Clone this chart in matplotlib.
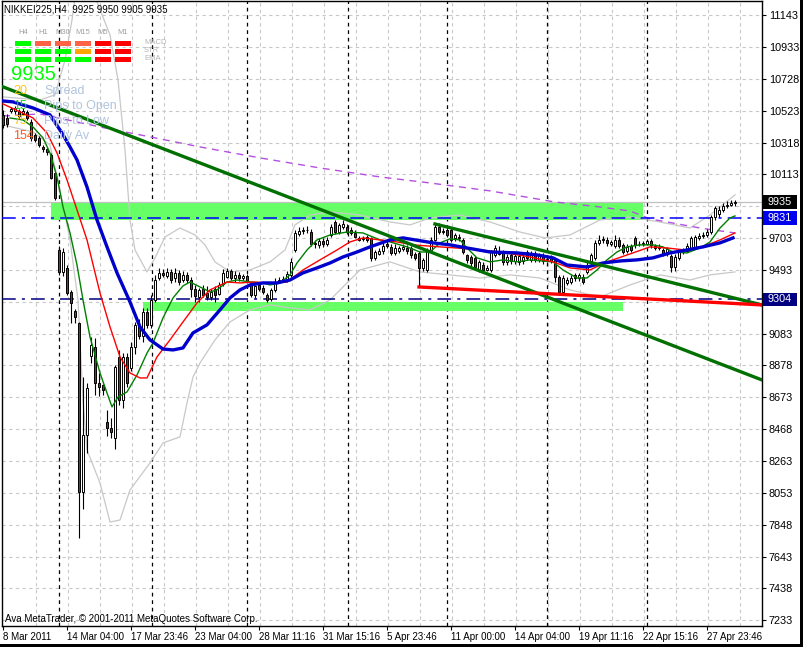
import matplotlib
matplotlib.use("Agg")
import matplotlib.pyplot as plt
import matplotlib.transforms as mtransforms
from matplotlib.patches import Rectangle

W, H = 804, 647

# H4 bars, 8 Mar 2011 .. 28 Apr 2011
opens = [10497, 10480, 10520, 10525, 10520, 10505, 10515, 10450, 10365, 10345,
         10290, 10275, 10240, 10120, 9625, 9480, 9505, 9355, 9230, 9150,
         8060, 8430, 8940, 9000, 8765, 8750, 8515, 8475, 8410, 8930,
         8655, 8930, 8860, 9000, 9140, 9065, 9220, 9140, 9300, 9445,
         9475, 9455, 9480, 9440, 9475, 9430, 9465, 9430, 9375, 9320,
         9370, 9345, 9320, 9375, 9340, 9405, 9450, 9485, 9440, 9465,
         9445, 9455, 9410, 9330, 9400, 9380, 9335, 9305, 9365, 9420,
         9425, 9430, 9465, 9625, 9730, 9745, 9755, 9740, 9670, 9655,
         9680, 9665, 9720, 9805, 9740, 9770, 9775, 9755, 9735, 9700,
         9695, 9705, 9700, 9575, 9600, 9620, 9660, 9645, 9605, 9620,
         9630, 9640, 9635, 9600, 9605, 9505, 9495, 9625, 9690, 9770,
         9740, 9750, 9750, 9700, 9710, 9690, 9590, 9580, 9575, 9495,
         9530, 9495, 9495, 9590, 9600, 9610, 9545, 9590, 9550, 9545,
         9550, 9610, 9560, 9600, 9560, 9590, 9560, 9580, 9560, 9450,
         9355, 9410, 9420, 9460, 9440, 9450, 9480, 9540, 9575, 9670,
         9690, 9690, 9665, 9650, 9690, 9655, 9620, 9650, 9700, 9660,
         9665, 9665, 9680, 9650, 9640, 9625, 9600, 9585, 9515, 9575,
         9610, 9620, 9640, 9645, 9700, 9715, 9720, 9740, 9835, 9855,
         9885, 9905, 9915, 9925]
highs = [10529, 10500, 10550, 10555, 10535, 10540, 10530, 10470, 10380, 10360,
         10300, 10285, 10250, 10130, 9650, 9640, 9530, 9365, 9240, 9160,
         8805, 8765, 9060, 9055, 8830, 8760, 8590, 8540, 8880, 8980,
         8960, 8960, 9030, 9160, 9180, 9250, 9250, 9330, 9460, 9510,
         9500, 9510, 9500, 9505, 9495, 9490, 9480, 9450, 9400, 9380,
         9395, 9390, 9370, 9390, 9420, 9500, 9510, 9500, 9490, 9480,
         9470, 9470, 9420, 9400, 9415, 9395, 9345, 9380, 9440, 9450,
         9455, 9485, 9570, 9755, 9770, 9775, 9780, 9760, 9690, 9700,
         9700, 9710, 9790, 9820, 9800, 9815, 9790, 9770, 9750, 9715,
         9715, 9720, 9710, 9625, 9640, 9670, 9680, 9660, 9660, 9650,
         9660, 9655, 9650, 9610, 9615, 9575, 9640, 9705, 9790, 9800,
         9765, 9770, 9765, 9735, 9725, 9700, 9600, 9590, 9585, 9560,
         9545, 9530, 9625, 9655, 9650, 9625, 9600, 9605, 9600, 9600,
         9600, 9625, 9615, 9615, 9605, 9605, 9585, 9590, 9575, 9460,
         9460, 9450, 9460, 9475, 9475, 9470, 9545, 9605, 9690, 9720,
         9715, 9705, 9690, 9720, 9705, 9670, 9660, 9665, 9715, 9680,
         9685, 9695, 9695, 9660, 9660, 9640, 9645, 9600, 9595, 9630,
         9640, 9670, 9715, 9720, 9735, 9740, 9760, 9850, 9910, 9905,
         9925, 9940, 9945, 9950]
lows = [10413, 10420, 10510, 10505, 10480, 10495, 10465, 10330, 10320, 10290,
        10255, 10240, 10080, 9950, 9465, 9455, 9330, 9150, 9155, 7765,
        7950, 8310, 8895, 8690, 8680, 8690, 8420, 8410, 8335, 8620,
        8600, 8740, 8840, 8950, 9050, 9030, 9120, 9120, 9290, 9430,
        9450, 9440, 9410, 9420, 9400, 9415, 9410, 9320, 9290, 9290,
        9320, 9300, 9300, 9290, 9330, 9390, 9440, 9430, 9420, 9425,
        9430, 9410, 9320, 9315, 9360, 9340, 9290, 9295, 9355, 9410,
        9415, 9420, 9450, 9610, 9715, 9730, 9735, 9650, 9640, 9640,
        9645, 9650, 9705, 9725, 9725, 9760, 9730, 9720, 9700, 9680,
        9680, 9675, 9555, 9560, 9590, 9600, 9640, 9590, 9590, 9605,
        9615, 9600, 9575, 9560, 9390, 9490, 9480, 9610, 9680, 9725,
        9725, 9705, 9675, 9685, 9680, 9595, 9540, 9520, 9500, 9480,
        9480, 9485, 9480, 9580, 9590, 9530, 9530, 9535, 9535, 9530,
        9535, 9560, 9545, 9545, 9545, 9535, 9545, 9540, 9420, 9330,
        9340, 9395, 9405, 9425, 9425, 9405, 9470, 9525, 9560, 9655,
        9670, 9650, 9650, 9635, 9635, 9595, 9605, 9610, 9640, 9650,
        9650, 9655, 9640, 9625, 9625, 9585, 9585, 9480, 9490, 9560,
        9600, 9610, 9630, 9630, 9690, 9700, 9705, 9725, 9820, 9840,
        9870, 9895, 9905, 9905]
closes = [10432, 10435, 10535, 10540, 10490, 10525, 10480, 10350, 10335, 10300,
          10275, 10255, 10090, 9960, 9480, 9610, 9345, 9280, 9190, 8060,
          8430, 8730, 9010, 8765, 8740, 8720, 8475, 8450, 8870, 8655,
          8930, 8765, 9000, 9140, 9065, 9220, 9140, 9300, 9430, 9475,
          9465, 9480, 9430, 9475, 9420, 9460, 9430, 9375, 9325, 9365,
          9335, 9320, 9350, 9335, 9400, 9475, 9485, 9440, 9465, 9440,
          9455, 9420, 9335, 9390, 9375, 9355, 9300, 9365, 9415, 9430,
          9435, 9470, 9545, 9735, 9745, 9755, 9750, 9660, 9660, 9680,
          9660, 9690, 9770, 9740, 9785, 9795, 9740, 9735, 9710, 9690,
          9700, 9690, 9570, 9610, 9615, 9650, 9650, 9605, 9640, 9635,
          9645, 9620, 9590, 9575, 9510, 9560, 9625, 9690, 9775, 9740,
          9745, 9720, 9690, 9720, 9700, 9610, 9560, 9540, 9515, 9545,
          9495, 9510, 9610, 9635, 9620, 9545, 9580, 9550, 9585, 9585,
          9580, 9575, 9600, 9560, 9590, 9550, 9565, 9555, 9450, 9355,
          9445, 9430, 9445, 9440, 9460, 9420, 9530, 9590, 9670, 9690,
          9695, 9670, 9675, 9690, 9650, 9610, 9645, 9625, 9655, 9665,
          9670, 9680, 9655, 9640, 9645, 9600, 9630, 9515, 9580, 9610,
          9615, 9650, 9700, 9705, 9715, 9720, 9740, 9835, 9895, 9885,
          9905, 9915, 9925, 9935]

# indicator lines: (bar index, price)
ma_slow_idx = [0, 2.5, 7.5, 11.75, 14.75, 16.75, 18.5, 21, 23.5, 26, 28.5, 31.75, 34.25, 36.75,
               40, 42.5, 45, 47.5, 51, 54.25, 56.75, 59.25, 61.75, 65, 68.5, 71.75, 75, 78.5,
               81.75, 85, 88.5, 91.75, 96.75, 100, 107.5, 111.75, 116, 121.75, 128.5, 133.5,
               137.5, 141, 146, 150, 154.25, 158.5, 162.5, 166.75, 171, 175, 179.25, 182.5]
ma_slow = [10587, 10581, 10542, 10497, 10380, 10290, 10206, 10031, 9818, 9644, 9476, 9288, 9127, 9043,
           8984, 8978, 8991, 9088, 9140, 9237, 9314, 9366, 9398, 9411, 9411, 9430, 9476, 9508,
           9540, 9579, 9611, 9644, 9689, 9702, 9670, 9657, 9637, 9611, 9605, 9592,
           9573, 9527, 9514, 9540, 9553, 9560, 9573, 9605, 9624, 9644, 9670, 9702]
ma_mid_idx = [0, 7.5, 11, 13.5, 16, 18.5, 21, 24.25, 26.75, 29.25, 31.75, 34.25, 36, 38.5, 41.75,
              45, 48.5, 51.75, 56, 59.25, 62.5, 66.75, 71, 75, 79.25, 83.5, 86.75, 90, 94.25,
              98.5, 102.5, 109.25, 116.75, 124.25, 131.75, 137.5, 141.75, 146.75, 151, 157.5,
              161.75, 166, 170.5, 175.5, 179.25, 183]
ma_mid = [10568, 10477, 10380, 10251, 10077, 9883, 9689, 9346, 9127, 8933, 8829, 8797, 8797, 8933, 9043,
          9159, 9282, 9366, 9417, 9411, 9417, 9411, 9417, 9495, 9560, 9624, 9676, 9702, 9689,
          9676, 9657, 9644, 9631, 9611, 9579, 9547, 9508, 9495, 9547, 9605,
          9644, 9637, 9624, 9650, 9689, 9734]
ma_fast_idx = [1.75, 5, 7.5, 10, 11.75, 13.5, 15, 16.75, 18.5, 20, 21.75, 24.25, 26, 27.25, 28.75,
               31, 33.5, 36, 37.5, 40, 42.5, 45, 46.75, 49.25, 51.75, 53.5, 56, 58.5, 61.75, 65,
               66.75, 69.25, 71.75, 73.5, 76, 78.5, 81.75, 86, 90, 94.25, 96.75, 101, 104.25,
               106.75, 109.25, 111.75, 114.25, 116, 118.5, 121.75, 125, 128.5, 131.75, 137.5, 140,
               143.5, 146, 148.5, 151, 153.5, 156, 159.25, 162.5, 165, 167.5, 171, 174.25, 176.75,
               179.25, 181.75, 183]
ma_fast = [10477, 10464, 10419, 10348, 10251, 10096, 9902, 9734, 9527, 9301, 9062, 8829, 8700, 8610, 8674,
           8707, 8816, 8958, 9023, 9185, 9314, 9392, 9417, 9385, 9353, 9366, 9417, 9430, 9417, 9411,
           9398, 9411, 9463, 9540, 9624, 9689, 9721, 9740, 9734, 9689, 9676, 9644, 9611,
           9611, 9670, 9696, 9689, 9637, 9573, 9547, 9560, 9547, 9560, 9547, 9495,
           9443, 9443, 9495, 9560, 9611, 9644, 9657, 9657, 9644, 9611, 9605, 9637, 9676,
           9766, 9831, 9844]
bb_up_idx = [0, 9.25, 13, 15.5, 17.25, 19.25, 21.75, 23.5, 26.75, 28.75, 30.5, 31.75, 33, 36, 38,
             40.5, 44.25, 48, 50.5, 53, 56.75, 61.75, 66.75, 70.5, 73, 76.75, 81.75, 89.25, 96.75,
             101.75, 106.75, 114.25, 121.75, 129.25, 135.5, 141.75, 149.25, 156.75, 164.25,
             171.75, 176.75, 183]
bb_up = [10613, 10594, 10626, 10852, 11111, 11499, 11499, 11227, 11014, 10723, 10271, 9818, 9624, 9482, 9573,
         9708, 9766, 9721, 9657, 9547, 9482, 9495, 9547, 9624, 9786, 9850, 9870, 9850, 9805,
         9786, 9831, 9850, 9805, 9740, 9702, 9721, 9818, 9837, 9805,
         9766, 9850, 9980]
bb_low_idx = [0, 7.5, 11.75, 14.25, 16.75, 18.75, 20, 21, 24.25, 26.75, 29.25, 31.75, 36.75, 40, 44.25,
              46, 47.5, 49.25, 53, 56.75, 61.75, 66.75, 71.75, 76.75, 81.75, 89.25, 96.75, 104.25,
              111.75, 119.25, 126.75, 134.25, 141.75, 149.25, 156.75, 164.25, 171.75, 176.75, 183]
bb_low = [10432, 10387, 10303, 10012, 9689, 9301, 8655, 8332, 8118, 7866, 7879, 8073, 8248, 8377, 8416,
          8636, 8803, 8894, 9043, 9159, 9237, 9269, 9250, 9237, 9301, 9495, 9547, 9482,
          9463, 9443, 9463, 9443, 9366, 9320, 9398, 9463, 9430, 9463, 9482]
ma_long_idx = [0, 9.25, 24.25, 36.75, 49.25, 64.25, 79.25, 94.25, 106.75, 121.75, 138, 149.25,
               156.75, 161.75, 174.25, 183]
ma_long = [10490, 10503, 10419, 10355, 10290, 10219, 10154, 10096, 10057, 10006, 9934, 9902,
           9876, 9825, 9766, 9734]

# drawn objects (bar index / price anchors)
trend_a = ([0, 189.75], [10678, 8784])
trend_b = ([108, 189.75], [9792, 9269])
support = ([104, 189.75], [9385, 9269])
zone_top = (12, 160, 9818, 9928)
zone_bottom = (35, 155, 9230, 9290)
level_hi = 9831
level_lo = 9304
last_price = 9935

x_labels = ["8 Mar 2011", "14 Mar 04:00", "17 Mar 23:46", "23 Mar 04:00", "28 Mar 11:16",
            "31 Mar 15:16", "5 Apr 23:46", "11 Apr 00:00", "14 Apr 04:00", "19 Apr 11:16",
            "22 Apr 15:16", "27 Apr 23:46"]
y_ticks = [11143, 10933, 10728, 10523, 10318, 10113, 9703, 9493, 9083, 8878, 8673, 8468,
           8263, 8053, 7848, 7643, 7438, 7233]
grid_levels = y_ticks + [9908, 9288]
separators = [14, 37.25, 61, 86.25, 111, 136, 161]

plt.rcParams['font.family'] = ['Liberation Sans', 'DejaVu Sans']

fig = plt.figure(figsize=(W / 100, H / 100), dpi=100)
ax = fig.add_axes([2 / W, 21 / H, 760 / W, 625 / H])
ax.set_xlim(-0.25, 189.75)
ax.set_ylim(7194, 11233)

# grid
for g in grid_levels:
    ax.axhline(g, color='#c8c8c8', lw=0.8, ls=(0, (3, 3)), zorder=0)
for k in range(1, 24):
    ax.axvline(0.25 + 8 * k, color='#c8c8c8', lw=0.8, ls=(0, (3, 3)), zorder=0)
for s in separators:
    ax.axvline(s, color='black', lw=0.9, ls=(0, (3, 3)), zorder=1)

# zones
for x0, x1, p0, p1 in [zone_top, zone_bottom]:
    ax.fill_between([x0, x1], [p0, p0], [p1, p1], color='#66ff66', lw=0, zorder=1)

# bid line
ax.axhline(last_price, color='#c0c0c0', lw=0.9, zorder=1)

# bands and long average
ax.plot(bb_up_idx, bb_up, color='#c8c8c8', lw=0.9, zorder=2)
ax.plot(bb_low_idx, bb_low, color='#c8c8c8', lw=0.9, zorder=2)
ax.plot(ma_long_idx, ma_long, color='#b450e0', lw=1, ls=(0, (5, 4)), zorder=2)

# candles
idx = list(range(len(closes)))
ax.vlines(idx, lows, highs, color='black', lw=0.8, zorder=4)
bottoms = [min(o, c) for o, c in zip(opens, closes)]
heights = [max(abs(c - o), 5) for o, c in zip(opens, closes)]
colors = ['white' if c >= o else '#ff0000' for o, c in zip(opens, closes)]
ax.bar(idx, heights, 0.7, bottoms, color=colors, edgecolor='black', lw=0.7, zorder=5)

# averages
ax.plot(ma_fast_idx, ma_fast, color='#008000', lw=1, zorder=6)
ax.plot(ma_mid_idx, ma_mid, color='#ff0000', lw=1, zorder=6)
ax.plot(ma_slow_idx, ma_slow, color='#0000cc', lw=2.4, zorder=6)

# levels
ax.axhline(level_hi, color='#0000ff', lw=1.1, ls=(0, (9, 4, 2, 4)), zorder=3)
ax.axhline(level_lo, color='#000080', lw=1.1, ls=(0, (9, 4, 2, 4)), zorder=3)

# trend lines
ax.plot(*trend_a, color='#007000', lw=2.4, zorder=7)
ax.plot(*trend_b, color='#007000', lw=2.4, zorder=7)
ax.plot(*support, color='#ff0000', lw=2.4, zorder=7)

# axes
for sp in ax.spines.values():
    sp.set_color('black')
    sp.set_linewidth(1)
ax.yaxis.tick_right()
ax.set_yticks(y_ticks)
ax.set_yticklabels([str(v) for v in y_ticks], fontsize=7.8)
ax.tick_params(axis='y', length=3, pad=2, width=0.8)
ax.set_xticks([16 * k for k in range(len(x_labels))])
ax.set_xticklabels(x_labels, fontsize=7, ha='left')
ax.tick_params(axis='x', length=3, pad=1, width=0.8)

# price boxes on the axis
tr = mtransforms.blended_transform_factory(ax.transAxes, ax.transData)
for price, col in [(last_price, 'black'), (level_hi, '#0000ee'), (level_lo, '#000080')]:
    ax.add_patch(Rectangle((1.0015, price - 43), 0.044, 86, transform=tr, facecolor=col,
                           edgecolor='none', clip_on=False, zorder=10))
    ax.text(1.023, price, str(price), transform=tr, color='white', fontsize=7.8,
            ha='center', va='center', clip_on=False, zorder=11)


def px(x, y):
    return x / W, 1 - y / H


# header text
fig.text(*px(4, 10), "NIKKEI225,H4  9925 9950 9905 9935", fontsize=7, va='center')

# signal matrix
tf_names = ["H4", "H1", "M30", "M15", "M5", "M1"]
signal_rows = ["MACD", "STR", "EMA"]
signal_colors = [['#00ff00', '#ff6347', '#ff6347', '#ff6347', '#ff0000', '#ff0000'],
                 ['#00ff00', '#00ff00', '#00ff00', '#ffa500', '#ff0000', '#ff0000'],
                 ['#00ff00', '#00ff00', '#00ff00', '#00ff00', '#ff0000', '#ff0000']]
for c, name in enumerate(tf_names):
    fig.text(*px(23 + 20 * c, 33), name, fontsize=5.5, color='#a0a0a0', ha='center', va='center')
for r, row in enumerate(signal_rows):
    y = 43 + 8 * r
    fig.text(*px(144, y), row, fontsize=5.5, color='#b4b4b4', va='center')
    for c in range(6):
        fig.add_artist(Rectangle(px(15 + 20 * c, y + 2.5), 16 / W, 5 / H,
                                 transform=fig.transFigure, facecolor=signal_colors[r][c],
                                 edgecolor='none'))

fig.text(*px(11, 75), "9935", fontsize=14.5, color='#00ff00', va='center')
info_vals = ["20", "15", "75", "154"]
info_cols = ['#ffc800', '#22cc22', '#ffc000', '#ff5a1e']
info_names = ["Spread", "Pips to Open", "Pips to Low", "Daily Av"]
for k in range(4):
    fig.text(*px(13, 91 + 15 * k), info_vals[k], fontsize=9, color=info_cols[k], va='center')
    fig.text(*px(44, 91 + 15 * k), info_names[k], fontsize=9, color='#b0c4de', va='center')

fig.text(*px(5, 619), "Ava MetaTrader, \u00a9 2001-2011 MetaQuotes Software Corp.", fontsize=7,
         va='center')

# window frame
fig.add_artist(Rectangle((800 / W, 0), 4 / W, 1, transform=fig.transFigure,
                         facecolor='black', edgecolor='none'))
fig.add_artist(Rectangle((0, 0), 1, 3 / H, transform=fig.transFigure,
                         facecolor='black', edgecolor='none'))

fig.savefig('out.png', dpi=100)
